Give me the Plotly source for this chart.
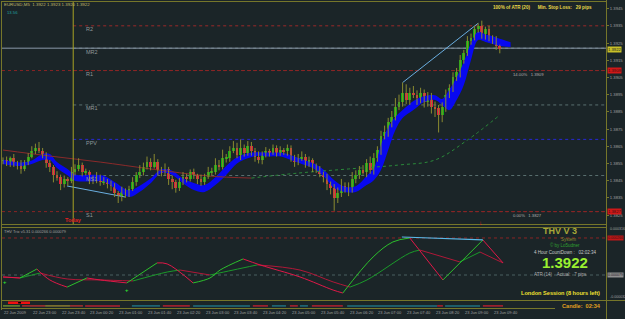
import plotly.graph_objects as go

W, H = 625, 319
def px(x): return x / W
def py(y): return 1 - y / H

BASE = 1.3800   # candle values below are in pips above this base
PIP = 0.0001

# ---------------- price data (EURUSD M5), pips above 1.3800 ----------------
open_first = 56.5
closes_pips = [57, 55, 58, 54, 55, 52, 56, 59, 62, 64,
               62, 60, 55, 53, 48, 47, 43, 46, 45, 50,
               52, 54, 50, 50, 46, 45, 47, 44, 45, 43,
               42, 38, 36, 39, 37, 40, 44, 48, 50, 53,
               56, 53, 56, 51, 50, 52, 46, 44, 41, 44,
               47, 46, 50, 48, 46, 44, 47, 50, 50, 54,
               53, 58, 58, 62, 64, 60, 64, 61, 65, 62,
               59, 57, 60, 62, 61, 64, 61, 63, 62, 64,
               58, 56, 58, 59, 55, 57, 53, 52, 49, 47,
               43, 41, 35, 38, 42, 41, 40, 46, 48, 51,
               50, 55, 51, 58, 63, 71, 73, 79, 82, 88,
               91, 96, 92, 96, 95, 93, 96, 91, 94, 88,
               87, 83, 88, 95, 99, 105, 108, 115, 119, 126,
               128, 133, 135, 130, 133, 128, 127, 123, 122]
wick_hi = [1.5, 2, 1, 2.5, 1.5, 2, 1, 2, 3, 2.5,
           3.5, 2, 1.5, 2, 1, 2.5, 1.5, 2, 1, 3,
           2.5, 4, 1.5, 2, 1, 2, 3, 1.5, 2, 1,
           2, 1.5, 1, 2.5, 1.5, 2, 3, 2, 4, 2.5,
           3, 2, 4.5, 1.5, 2, 3, 1, 2, 1.5, 2.5,
           3, 2, 1.5, 2, 1, 2.5, 2, 3, 2.5, 4,
           3, 5, 2.5, 3, 4, 3, 5, 2, 3, 2.5,
           2, 3, 2, 2.5, 1.5, 2, 1.5, 2, 1, 2,
           1.5, 2, 2.5, 3, 1.5, 2, 1, 2, 1.5, 1,
           2, 1.5, 2, 3, 4, 2, 3, 4, 3, 2.5,
           3, 2.5, 4, 3, 2, 3, 4, 2.5, 3.5, 5,
           4, 6, 5, 3, 4, 2.5, 3, 2, 2.5, 2,
           3, 2, 2.5, 3, 2, 3, 2.5, 3, 2, 3,
           2.5, 2, 1.5, 3, 1.5, 2, 1.5, 2, 1]
wick_lo = [2, 1.5, 2, 1, 2.5, 3, 1.5, 2, 1, 1.5,
           1, 2, 2.5, 3, 4, 2, 3.5, 2, 3, 1.5,
           2, 1.5, 2.5, 2, 3, 2, 1.5, 2, 1.5, 2.5,
           3, 2.5, 4, 3, 2, 1.5, 1, 2, 1.5, 2,
           1.5, 2, 1, 3, 2.5, 2, 3.5, 4, 3, 2,
           1.5, 2, 1.5, 2, 3, 2, 1.5, 1, 2, 1.5,
           2, 1.5, 2.5, 2, 1, 2, 3, 2, 1.5, 2.5,
           3, 2, 2.5, 1.5, 2, 1, 2, 1.5, 2, 2.5,
           2, 3, 2, 1.5, 2.5, 2, 3, 2.5, 2, 3,
           3.5, 4, 7.5, 3, 2.5, 3, 4, 2, 2.5, 2,
           1.5, 3, 2, 2.5, 2, 3, 2, 2.5, 3, 2,
           2, 3, 2.5, 3, 2, 4, 3, 3.5, 3, 4,
           5, 10, 4, 3, 2, 2.5, 2, 3, 2, 1.5,
           2, 1.5, 2, 2.5, 3, 2, 2.5, 2, 3]

# blue band (bar index, upper, lower in pips)
band_idx = [0, 5, 8, 11, 13, 15, 18, 20, 25, 28, 31, 35, 38, 41, 44, 47, 50, 53, 56, 59,
            62, 65, 68, 71, 74, 77, 80, 83, 86, 89, 92, 95, 98, 101, 103, 105, 107, 109,
            111, 114, 117, 120, 122, 124, 126, 128, 130, 132, 134, 136, 138, 141]
band_top = [57.1, 55.6, 56.7, 60.5, 60.5, 55.8, 51.6, 48.6, 48.4, 47.8, 44.2, 39.4, 42.1,
            46.2, 51.6, 50.8, 46.2, 43.7, 42.5, 47, 53.5, 58.6, 60.9, 61.5, 61.3, 61.3,
            59.8, 57.5, 55.2, 51.5, 45.3, 41.5, 41.8, 47.7, 52.3, 66, 76, 82, 86, 91.3,
            94.2, 94.7, 92.5, 98, 105, 114, 125, 131.5, 130, 129, 127.5, 125.5]
band_bot = [54.7, 53.5, 54.7, 57, 57, 52.4, 48, 45, 44.5, 44.5, 40.7, 35.5, 38.5, 43.5, 49.5,
            48.3, 43.5, 39.5, 38.4, 42.4, 48.3, 55, 58, 59.5, 59, 59, 57, 54.7, 52.4, 47.7,
            40.7, 38.4, 38.4, 42.4, 45.3, 51.2, 62.8, 74.4, 81.4, 86, 90.7, 91.9, 89, 86,
            91.9, 100.6, 115.1, 126.7, 125.6, 124.4, 123.3, 122.7]

# slow moving average
ma_idx = [0, 13, 27, 41, 57, 69, 82, 96, 110, 120, 129, 138]
ma_val = [62.8, 59.3, 55.8, 51.8, 47.7, 46.5, 49.4, 51.8, 54.1, 57, 68.6, 83.1]

# trend lines (light blue)
tl1_idx, tl1_val = [17.8, 33.9], [41.9, 35.5]
tl2_idx, tl2_val = [111, 132], [102, 136.5]

# pivot levels
pivot_names = ["R2", "MR2", "R1", "MR1", "PPV", "MS1", "S1"]
pivot_vals = [1.3935, 1.3922, 1.3909, 1.3889, 1.3869, 1.3848, 1.3827]
pivot_cols = ["#9a2a2a", "#5a7070", "#9a2a2a", "#5a7070", "#2828d8", "#5a7070", "#9a2a2a"]
bid = 1.3922
fib_vals = [1.3909, 1.3827]
fib_text = ["14.00%   1.3909", "0.00%   1.3827"]

price_ticks = [1.3825, 1.3835, 1.3845, 1.3855, 1.3865, 1.3875, 1.3885,
               1.3895, 1.3905, 1.3915, 1.3925, 1.3935, 1.3945]

# ---------------- indicator (THV Trix), values in 1e-6 ----------------
fast_idx = [0, 4.7, 9.4, 13, 17.8, 23.3, 27, 34.4, 42.8, 45.6, 52.8, 57.5, 60.3, 66.7,
            71.4, 82.5, 91.7, 94.4, 102.8, 108.3, 113, 122.2, 133.3, 138.9]
fast_e6 = [69, 64, 109, 54, 18, 64, 54, 39, 140, 135, 39, 64, 104, 160,
           130, 69, 3, -12, 170, 246, 266, 54, 256, 140]
slow_idx = [0, 4.7, 10.3, 17.8, 27, 36.1, 45.6, 49.2, 57.5, 63.9, 70.6, 82.5, 91.7,
            96.4, 101.1, 113, 115.8, 126.9, 132.5, 138.9]
slow_e6 = [69, 64, 89, 59, 54, 49, 94, 104, 79, 104, 130, 104, 44, 18, 54, 190, 205,
           145, 195, 140]
ind_tl_idx, ind_tl_val = [110.8, 133.3], [271, 256]
ind_level_hi, ind_level_zero = 266, 79

# bottom signal strip
strip_start = [0, 5.3, 11.7, 18.6, 22.8, 35.8, 44.4, 52.8, 69.4, 74.7, 79.7, 82.5,
               85.8, 95.6, 120.6, 122.8, 133.3]
strip_end = [4.7, 11.7, 18.6, 22.2, 32.5, 43.6, 51.9, 68.6, 73.6, 78.6, 81.9, 84.7,
             94.4, 120.6, 122.2, 132.5, 138.9]
strip_col = ["#6a8a30", "#a83030", "#8a7a30", "#a83030", "#b02030", "#207080", "#b02030",
             "#207080", "#b02030", "#207080", "#b02030", "#207080", "#b02030", "#207080",
             "#b02030", "#207080", "#b02030"]

time_labels = ["22 Jun 2009", "22 Jun 23:00", "22 Jun 23:40", "23 Jun 00:20", "23 Jun 01:00",
               "23 Jun 01:40", "23 Jun 02:20", "23 Jun 03:00", "23 Jun 03:40", "23 Jun 04:20",
               "23 Jun 05:00", "23 Jun 05:40", "23 Jun 06:20", "23 Jun 07:00", "23 Jun 07:40",
               "23 Jun 08:20", "23 Jun 09:00", "23 Jun 09:40"]
BARS_PER_LABEL = 8
today_idx = 19.5

# ---------------- build ----------------
n = len(closes_pips)
assert len(wick_hi) == n and len(wick_lo) == n
idx = list(range(n))
opens_pips = [open_first] + closes_pips[:-1]
to_p = lambda v: BASE + v * PIP
o = [to_p(v) for v in opens_pips]
c = [to_p(v) for v in closes_pips]
hi = [to_p(max(a, b) + w) for a, b, w in zip(opens_pips, closes_pips, wick_hi)]
lo = [to_p(min(a, b) - w) for a, b, w in zip(opens_pips, closes_pips, wick_lo)]

BG = "#1b2528"
OLIVE = "#76762a"
fig = go.Figure()

# blue band
fig.add_trace(go.Scatter(x=band_idx, y=[to_p(v) for v in band_top], mode="lines",
                         line=dict(width=0, color="#0000ff", shape="spline"),
                         xaxis="x", yaxis="y", hoverinfo="skip"))
fig.add_trace(go.Scatter(x=band_idx, y=[to_p(v) for v in band_bot], mode="lines",
                         line=dict(width=0, color="#0000ff", shape="spline"), fill="tonexty",
                         fillcolor="#0808f0", xaxis="x", yaxis="y", hoverinfo="skip"))
# moving average: falling part maroon, rising part green
split = ma_idx.index(69)
fig.add_trace(go.Scatter(x=ma_idx[:split + 1], y=[to_p(v) for v in ma_val[:split + 1]],
                         mode="lines", line=dict(color="#8a2a2a", width=1, shape="spline"),
                         xaxis="x", yaxis="y"))
fig.add_trace(go.Scatter(x=ma_idx[split:], y=[to_p(v) for v in ma_val[split:]],
                         mode="lines", line=dict(color="#2a8a3a", width=1, dash="dot", shape="spline"),
                         xaxis="x", yaxis="y"))
# trend lines
for tx, tv in ((tl1_idx, tl1_val), (tl2_idx, tl2_val)):
    fig.add_trace(go.Scatter(x=tx, y=[to_p(v) for v in tv], mode="lines",
                             line=dict(color="#6aaee0", width=1), xaxis="x", yaxis="y"))
# wicks
wx, wy = [], []
for i in idx:
    wx += [i, i, None]
    wy += [lo[i], hi[i], None]
fig.add_trace(go.Scatter(x=wx, y=wy, mode="lines", line=dict(color="#8a8a30", width=1),
                         xaxis="x", yaxis="y", hoverinfo="skip"))
# bodies
base = [min(a, b) for a, b in zip(o, c)]
hgt = [max(abs(a - b), 0.00003) for a, b in zip(o, c)]
cols = ["#12b012" if b >= a else "#e0203a" for a, b in zip(o, c)]
fig.add_trace(go.Bar(x=idx, y=hgt, base=base, width=0.8, marker=dict(color=cols, line=dict(width=0)),
                     xaxis="x", yaxis="y"))

# indicator lines coloured by direction
def add_dir_line(xs, ys, up_col, dn_col, width):
    runs = []
    cur = [0]
    cur_dir = None
    for k in range(1, len(xs)):
        d = ys[k] >= ys[k - 1]
        if cur_dir is None or d == cur_dir:
            cur.append(k)
            cur_dir = d
        else:
            runs.append((cur, cur_dir))
            cur = [k - 1, k]
            cur_dir = d
    runs.append((cur, cur_dir))
    for r, d in runs:
        fig.add_trace(go.Scatter(x=[xs[k] for k in r], y=[ys[k] for k in r], mode="lines",
                                 line=dict(color=up_col if d else dn_col, width=width, shape="spline"),
                                 xaxis="x2", yaxis="y2"))

add_dir_line(slow_idx, slow_e6, "#1a9a2a", "#b01838", 1)
add_dir_line(fast_idx, fast_e6, "#2cc02c", "#e01848", 1)
fig.add_trace(go.Scatter(x=ind_tl_idx, y=ind_tl_val, mode="lines",
                         line=dict(color="#5ab8e8", width=1.2), xaxis="x2", yaxis="y2"))

# bottom strip
for s, e, col in zip(strip_start, strip_end, strip_col):
    fig.add_trace(go.Scatter(x=[s, e], y=[0.3, 0.3], mode="lines", line=dict(color=col, width=1.5),
                             xaxis="x3", yaxis="y3"))
fig.add_trace(go.Scatter(x=[1.4, 7.5], y=[0.75, 0.75], mode="lines", line=dict(color="#f01010", width=2.5),
                         xaxis="x3", yaxis="y3"))
fig.add_trace(go.Scatter(x=[4.2, 5.0], y=[0.75, 0.75], mode="lines", line=dict(color="#000000", width=1.5),
                         xaxis="x3", yaxis="y3"))

XR = [-0.28, 167.5]
XD = [px(2), px(606)]
shapes = []
# pivot levels (start at the day separator)
for v, col in zip(pivot_vals, pivot_cols):
    shapes.append(dict(type="line", xref="x", yref="y", x0=today_idx, x1=XR[1], y0=v, y1=v,
                       line=dict(color=col, width=1, dash="dot"), layer="below"))
for v in fib_vals:
    shapes.append(dict(type="line", xref="x", yref="y", x0=XR[0], x1=XR[1], y0=v, y1=v,
                       line=dict(color="#8a2424", width=1, dash="dot"), layer="below"))
shapes.append(dict(type="line", xref="x", yref="y", x0=XR[0], x1=XR[1], y0=bid, y1=bid,
                   line=dict(color="#8a98a8", width=1), layer="below"))
shapes.append(dict(type="line", xref="x", yref="paper", x0=today_idx, x1=today_idx,
                   y0=py(224), y1=py(1), line=dict(color="#a8a424", width=1)))
# indicator levels
shapes.append(dict(type="line", xref="x2", yref="y2", x0=XR[0], x1=XR[1], y0=ind_level_hi,
                   y1=ind_level_hi, line=dict(color="#8a2424", width=1, dash="dot"), layer="below"))
shapes.append(dict(type="line", xref="x2", yref="y2", x0=XR[0], x1=XR[1], y0=ind_level_zero,
                   y1=ind_level_zero, line=dict(color="#4a6060", width=1, dash="dot"), layer="below"))
# frames
def hline(y, x0=1, x1=606, col=OLIVE, w=1):
    shapes.append(dict(type="line", xref="paper", yref="paper", x0=px(x0), x1=px(x1),
                       y0=py(y), y1=py(y), line=dict(color=col, width=w)))
def vline(x, y0, y1, col=OLIVE, w=1):
    shapes.append(dict(type="line", xref="paper", yref="paper", x0=px(x), x1=px(x),
                       y0=py(y0), y1=py(y1), line=dict(color=col, width=w)))
hline(1.5)
hline(224.5)
hline(227.5)
hline(300.5, x1=625)
hline(308.5, x1=555)
vline(1.5, 1, 310)
vline(606.5, 0, 319)

ann = []
def text(x, y, s, size=4.5, col="#a0a0a0", anchor="left", bold=False, bg=None, **kw):
    d = dict(xref="paper", yref="paper", x=px(x), y=py(y), text=f"<b>{s}</b>" if bold else s,
             showarrow=False, xanchor=anchor, yanchor="middle",
             font=dict(size=size, color=col, family="Liberation Sans"), borderpad=0)
    if bg:
        d["bgcolor"] = bg
    d.update(kw)
    ann.append(d)

text(3, 5, "EURUSD,M5  1.3922 1.3923 1.3920 1.3922", 4.4, "#c0b868")
text(6, 13, "13.56", 4.2, "#20a0a0")
text(492, 7, "100% of ATR (20)      Min. Stop Loss:   29 pips", 4.6, "#e8d848", bold=True)
for name, v in zip(pivot_names, pivot_vals):
    ann.append(dict(xref="x", yref="y", x=22.6, y=v, yshift=-3.5, text=name, showarrow=False,
                    xanchor="left", yanchor="middle",
                    font=dict(size=5.5, color="#90989a", family="Liberation Sans")))
for s, v in zip(fib_text, fib_vals):
    ann.append(dict(xref="x", yref="y", x=141, y=v, yshift=-3.5, text=s, showarrow=False,
                    xanchor="left", yanchor="middle",
                    font=dict(size=4.2, color="#b0b0b0", family="Liberation Sans")))
text(73, 220, "Today", 5.5, "#e02020", anchor="center", bold=True)
text(3, 231, "THV Trix v5.31 0.000266 0.000079", 4, "#a0a0a0")
text(560, 231, "THV V 3", 9, "#a8a838", anchor="center", bold=True)
text(568, 239, "System", 4.5, "#8a8a30", anchor="center")
text(565, 245, "© by Lo5udner", 4.5, "#30a030", anchor="center")
text(565, 252, "4 Hour CountDown :   02:02:34", 4.5, "#c8c8c8", anchor="center")
text(565, 262, "1.3922", 15, "#9af030", anchor="center", bold=True)
text(560, 274, "ATR (14)    Actual:   7 pips", 4.5, "#b0b0b0", anchor="center")
text(560, 293, "London Session (8 hours left)", 5.6, "#f0e030", anchor="center", bold=True)
text(581, 306, "Candle:  02:34", 5.6, "#e0a020", anchor="center", bold=True)
# right axis boxes
text(607, 49, "1.3922", 4.2, "#202020", bg="#c8c028")
text(607, 71, "1.3909", 4.2, "#401010", bg="#d01818")
text(607, 211, "1.3827", 4.2, "#401010", bg="#d01818")
text(609, 229, "0.000316", 3.6, "#a0a0a0")
text(607, 238, "0.000266", 3.6, "#401010", bg="#c01818")
text(607, 275, "0.000079", 3.6, "#202020", bg="#909090")
text(609, 297, "-0.000032", 3.6, "#a0a0a0")
# signal arrows
ann.append(dict(xref="x", yref="paper", x=132.5, y=py(229), text="<b>↓</b>", showarrow=False,
                font=dict(size=6, color="#f02020")))
for xi, yy in ((34.4, 297), (0.5, 289)):
    ann.append(dict(xref="x", yref="paper", x=xi, y=py(yy), text="<b>+</b>", showarrow=False,
                    font=dict(size=6, color="#30e030")))
# time labels
for k, s in enumerate(time_labels):
    ann.append(dict(xref="x", yref="paper", x=k * BARS_PER_LABEL, y=py(312.5), text=s, showarrow=False,
                    xanchor="left", yanchor="middle", xshift=-1,
                    font=dict(size=4, color="#a0a0a0", family="Liberation Sans")))

axis_common = dict(showgrid=False, zeroline=False, showline=False, fixedrange=True)
fig.update_layout(
    width=W, height=H, margin=dict(l=0, r=0, t=0, b=0),
    paper_bgcolor=BG, plot_bgcolor=BG, showlegend=False, barmode="overlay", bargap=0,
    xaxis=dict(domain=XD, range=XR, showticklabels=False, anchor="y", **axis_common),
    xaxis2=dict(domain=XD, range=XR, showticklabels=False, anchor="y2", matches="x", **axis_common),
    xaxis3=dict(domain=XD, range=XR, showticklabels=False, anchor="y3", matches="x", **axis_common),
    yaxis=dict(domain=[py(224), py(5)], range=[1.38198, 1.39471], side="right", anchor="x",
               tickvals=price_ticks, ticktext=[f"{v:.4f}" for v in price_ticks],
               ticks="outside", ticklen=2, tickcolor=OLIVE,
               tickfont=dict(size=4.2, color="#a0a0a0", family="Liberation Sans"), **axis_common),
    yaxis2=dict(domain=[py(300), py(228)], range=[-47.3, 316.4], showticklabels=False, anchor="x2",
                **axis_common),
    yaxis3=dict(domain=[py(308), py(301)], range=[0, 1], showticklabels=False, anchor="x3",
                **axis_common),
    shapes=shapes, annotations=ann,
)
fig.write_html("out.html")
